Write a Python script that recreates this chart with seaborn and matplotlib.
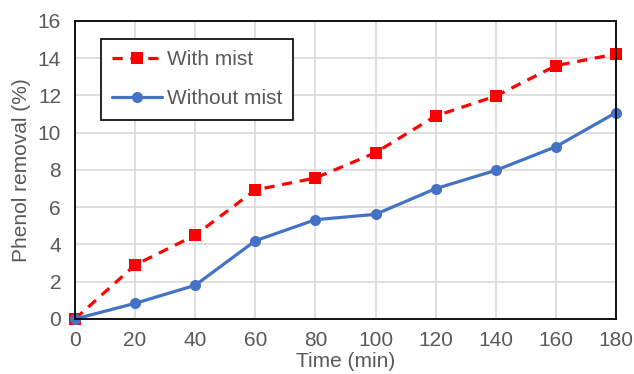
import matplotlib
matplotlib.use('Agg')
import matplotlib.pyplot as plt
import seaborn as sns
import pandas as pd

time_min = [0, 20, 40, 60, 80, 100, 120, 140, 160, 180]
with_mist = [0, 2.9, 4.5, 6.93, 7.57, 8.93, 10.9, 11.97, 13.6, 14.23]
without_mist = [0, 0.84, 1.81, 4.2, 5.33, 5.62, 7.0, 7.98, 9.25, 11.08]
series_names = ['With mist', 'Without mist']

sns.set_style('whitegrid')
plt.rcParams['font.family'] = ['Liberation Sans', 'DejaVu Sans']

df = pd.DataFrame({
    'Time': time_min * 2,
    'Removal': with_mist + without_mist,
    'Series': [series_names[0]] * len(time_min) + [series_names[1]] * len(time_min),
})

fig = plt.figure(figsize=(6.34, 3.74), dpi=100)
ax = fig.add_axes([0.1183, 0.1471, 0.8533, 0.7968])

gray = '#595959'
fs = 15

sns.lineplot(data=df, x='Time', y='Removal', hue='Series', style='Series',
             palette={'With mist': '#FF0000', 'Without mist': '#4472C4'},
             dashes={'With mist': (3.2, 2.4), 'Without mist': ''},
             markers={'With mist': 's', 'Without mist': 'o'},
             markersize=8, markeredgewidth=0, linewidth=2.3, ax=ax, clip_on=False)

ax.set_xlim(0, 180)
ax.set_ylim(0, 16)
ax.set_xticks(range(0, 181, 20))
ax.set_yticks(range(0, 17, 2))
ax.grid(True, color='#D9D9D9', linewidth=1.2)
for s in ax.spines.values():
    s.set_color('black')
    s.set_linewidth(1.3)
ax.tick_params(axis='both', which='major', labelsize=fs, colors=gray,
               direction='out', length=3, width=1, color='black', pad=7)
ax.tick_params(axis='x', pad=6)

ax.set_xlabel('Time (min)', fontsize=fs, color=gray, labelpad=1)
ax.set_ylabel('Phenol removal (%)', fontsize=fs, color=gray, labelpad=5)

leg = ax.legend(loc='upper left', bbox_to_anchor=(0.048, 0.94), borderaxespad=0,
                fontsize=fs, frameon=True, fancybox=False, edgecolor='black',
                framealpha=1, handlelength=2.4, labelspacing=0.95, borderpad=0.55,
                handletextpad=0.2)
leg.get_frame().set_linewidth(1.2)
for t in leg.get_texts():
    t.set_color(gray)

fig.savefig('out.png', dpi=100)
